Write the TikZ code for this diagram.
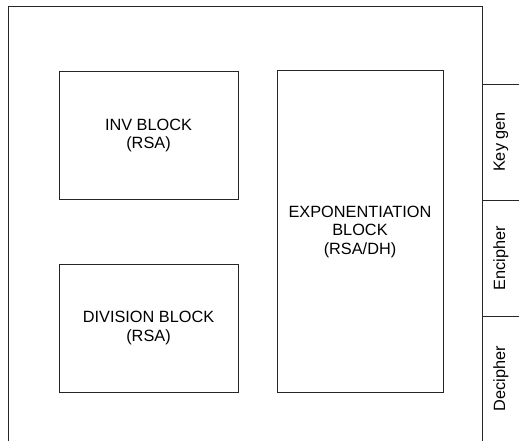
\documentclass[tikz,border=0pt]{standalone}
\usepackage{fontspec}
\setmainfont{Liberation Sans}
\begin{document}
\begin{tikzpicture}[x=1pt,y=-1pt,
  blk/.style={draw=black!85, line width=1pt, inner sep=0pt, align=center, font=\fontsize{16.3}{18.5}\selectfont},
  lbl/.style={rotate=90, font=\fontsize{16.3}{18.5}\selectfont, inner sep=0pt},
  ln/.style={draw=black!85, line width=1pt}]
\useasboundingbox (0,0) rectangle (519,441);
\coordinate (ob) at (8,441);
\coordinate (ot) at (8,7);
\coordinate (rt) at (482,7);
\coordinate (rb) at (482,441);
\draw[ln] (ob) -- (ot) -- (rt) -- (rb);
\node[blk, minimum width=179pt, minimum height=128pt] (inv) at (148.5,135.5) {INV BLOCK\\(RSA)};
\node[blk, minimum width=179pt, minimum height=128pt] (div) at (148.5,328) {DIVISION BLOCK\\(RSA)};
\node[blk, minimum width=166pt, minimum height=321pt] (exp) at (360,231.5) {EXPONENTIATION\\BLOCK\\(RSA/DH)};
\coordinate (s1a) at (482,84.5); \coordinate (s1b) at (519,84.5);
\coordinate (s2a) at (482,200); \coordinate (s2b) at (519,200);
\coordinate (s3a) at (482,316); \coordinate (s3b) at (519,316);
\draw[ln] (s1a) -- (s1b);
\draw[ln] (s2a) -- (s2b);
\draw[ln] (s3a) -- (s3b);
\node[lbl] (kg) at (501,142) {Key gen};
\node[lbl] (enc) at (501,258) {Encipher};
\node[lbl] (dec) at (501,378.5) {Decipher};
\end{tikzpicture}
\end{document}
